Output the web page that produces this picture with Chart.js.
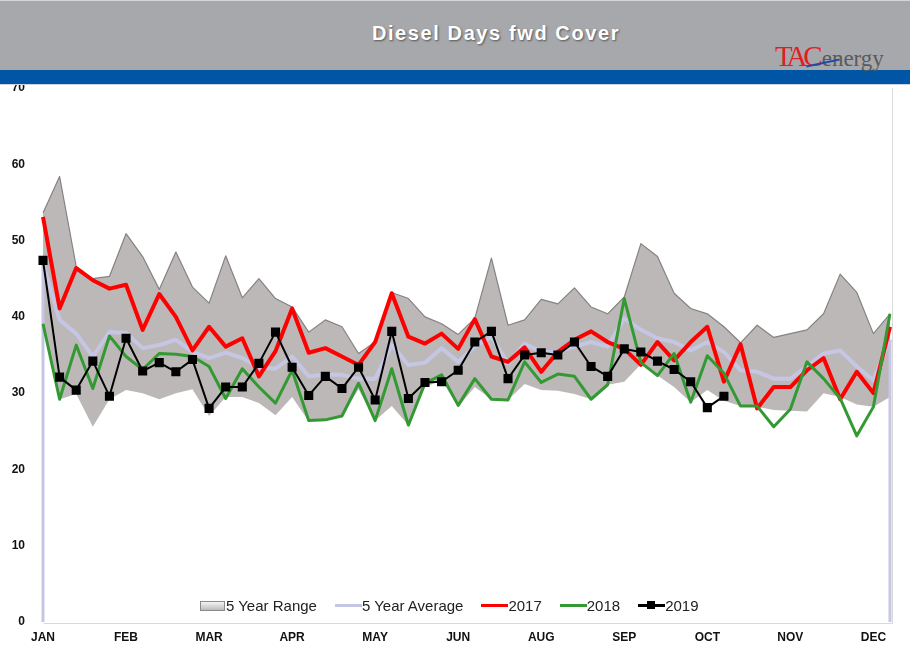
<!DOCTYPE html>
<html>
<head>
<meta charset="utf-8">
<script src="https://cdn.jsdelivr.net/npm/chart.js@4.4.1/dist/chart.umd.min.js"></script>
<style>
  html, body { margin: 0; padding: 0; background: #fff; }
  #wrap { position: relative; width: 910px; height: 661px; overflow: hidden; }
  #chart { position: absolute; left: 0; top: 0; }
  #head { position: absolute; left: 0; top: 0; width: 910px; height: 70px; background: #a7a8ab; border-top: 1px solid #d6d6d8; box-sizing: border-box; z-index: 2; }
  #band { position: absolute; left: 0; top: 70px; width: 910px; height: 14px; background: #0055a5; border-bottom: 1px solid #c9d3e3; z-index: 2; }
  #title { position: absolute; left: 0; width: 992px; top: 21px; text-align: center; color: #fff; font: bold 20px "Liberation Sans", Arial, sans-serif; letter-spacing: 1.6px; text-shadow: 1px 1px 2px #555; }
  #logo { position: absolute; left: 775px; top: 40px; white-space: nowrap; z-index: 3; font-family: "Liberation Serif", "DejaVu Serif", serif; }
  #logo .tac { color: #e31d25; font-size: 29px; letter-spacing: -4px; }
  #logo .en { color: #5a5a5c; font-size: 23px; margin-left: 3px; }
  #swoosh { position: absolute; left: 806px; top: 62px; width: 34px; height: 2px; background: #1f4fa0; transform: rotate(-12deg); z-index: 4; }
  #legend { position: absolute; top: 597px; left: 200px; display: flex; align-items: center; font: 15px "Liberation Sans", Arial, sans-serif; color: #222; z-index: 3; }
  #legend .item { display: flex; align-items: center; margin-right: 18px; }
  #legend .box { width: 23px; height: 8px; background: linear-gradient(#f4f4f4, #bdbaba); border: 1px solid #8a8a8a; margin-right: 1px; }
  #legend .ln { width: 27px; height: 3px; position: relative; }
  #legend .sq { position: absolute; left: 9px; top: -3px; width: 8px; height: 8px; background: #000; }
</style>
</head>
<body>
<div id="wrap">
  <canvas id="chart" width="910" height="661"></canvas>
  <div id="head"><div id="title">Diesel Days fwd Cover</div></div>
  <div id="band"></div>
  <div id="logo"><span class="tac">TAC</span><span class="en">energy</span></div>
  <div id="swoosh"></div>
  <div id="legend">
    <div class="item"><span class="box"></span>5 Year Range</div>
    <div class="item"><span class="ln" style="background:#c5c6e4"></span>5 Year Average</div>
    <div class="item"><span class="ln" style="background:#ff0000"></span>2017</div>
    <div class="item"><span class="ln" style="background:#339933"></span>2018</div>
    <div class="item"><span class="ln" style="background:#000"><span class="sq"></span></span>2019</div>
  </div>
</div>
<script>
// week categories (52 weeks), month tick labels shown every 5th week
const weeks = [];
for (let w = 1; w <= 52; w++) weeks.push("W" + w);
const monthTicks = ["JAN", "FEB", "MAR", "APR", "MAY", "JUN", "AUG", "SEP", "OCT", "NOV", "DEC"];

const rangeMax = [53.6, 58.4, 46.6, 45.0, 45.3, 50.9, 47.9, 43.6, 48.5, 43.9, 41.8, 48.0, 42.5,
  45.0, 42.4, 41.3, 38.0, 39.6, 38.7, 35.2, 36.7, 43.2, 42.4, 40.0, 39.1, 37.7, 39.8,
  47.7, 38.9, 39.6, 42.3, 41.7, 43.8, 41.3, 40.4, 42.6, 49.6, 47.9, 43.1, 41.1, 40.4,
  38.7, 36.6, 38.9, 37.3, 37.8, 38.3, 40.4, 45.6, 43.2, 37.8, 40.4];
const rangeMin = [39.0, 29.2, 29.9, 25.6, 29.2, 30.4, 30.0, 29.2, 30.0, 30.5, 27.0, 29.5, 29.5,
  28.7, 27.1, 29.5, 26.3, 26.5, 27.0, 30.5, 26.4, 28.3, 25.8, 30.8, 31.7, 28.2, 30.8,
  29.2, 29.1, 31.2, 30.4, 30.3, 29.9, 29.2, 31.1, 31.5, 33.8, 32.3, 30.8, 28.8, 30.4,
  29.0, 28.3, 28.2, 27.8, 27.7, 27.6, 30.0, 29.5, 28.5, 28.2, 29.5];
const avg5 = [47.0, 39.6, 37.8, 34.8, 38.0, 37.9, 35.9, 36.3, 37.0, 35.4, 34.6, 35.3, 34.6,
  33.4, 33.2, 34.8, 32.2, 32.4, 32.4, 31.9, 31.9, 36.3, 33.7, 34.0, 35.9, 34.1, 36.1,
  37.4, 33.9, 36.5, 35.4, 35.4, 36.1, 36.7, 36.1, 39.8, 38.3, 37.2, 36.7, 35.6, 36.7,
  35.4, 33.0, 32.8, 31.9, 31.9, 33.5, 35.2, 35.6, 33.5, 31.7, 37.0];
const y2017 = [53.1, 41.1, 46.4, 44.8, 43.7, 44.2, 38.3, 43.0, 40.0, 35.6, 38.7, 36.1, 37.2,
  32.2, 35.5, 41.1, 35.3, 35.9, 34.8, 33.7, 36.7, 43.1, 37.4, 36.5, 37.8, 35.8, 39.7,
  34.8, 34.1, 36.0, 32.8, 35.4, 37.0, 38.1, 36.7, 35.8, 33.7, 36.7, 34.3, 36.7, 38.7,
  31.5, 36.4, 28.0, 30.8, 30.8, 33.0, 34.6, 29.2, 32.8, 30.0, 38.7];
const y2018 = [39.1, 29.2, 36.3, 30.6, 37.5, 34.8, 33.1, 35.2, 35.1, 34.8, 33.5, 29.3, 33.2,
  30.8, 28.7, 33.0, 26.4, 26.5, 27.0, 31.3, 26.4, 33.2, 25.8, 31.3, 32.4, 28.4, 31.9,
  29.2, 29.1, 34.1, 31.4, 32.5, 32.2, 29.2, 31.1, 42.4, 34.0, 32.3, 35.2, 28.8, 34.9,
  32.6, 28.3, 28.3, 25.6, 27.9, 34.1, 31.9, 29.3, 24.4, 28.2, 40.4];
const y2019 = [47.4, 32.1, 30.4, 34.2, 29.6, 37.2, 32.9, 34.0, 32.8, 34.4, 28.0, 30.8, 30.8,
  33.9, 38.0, 33.4, 29.7, 32.2, 30.6, 33.4, 29.1, 38.1, 29.3, 31.4, 31.5, 33.0, 36.7,
  38.1, 31.9, 35.0, 35.3, 35.0, 36.7, 33.5, 32.2, 35.8, 35.4, 34.2, 33.1, 31.5, 28.1, 29.6];

const condensed = "'Liberation Sans Narrow', Arial, 'Liberation Sans', sans-serif";

// Excel-style area outline for the average: vertical edges down to the axis
const avgEdges = {
    id: "avgEdges",
    afterDatasetDraw(chart, args) {
        if (args.meta.label !== "5 Year Average") return;
        const pts = args.meta.data;
        const base = chart.scales.y.getPixelForValue(0);
        const ctx = chart.ctx;
        ctx.save();
        ctx.strokeStyle = "#c5c6e4";
        ctx.lineWidth = 3;
        [pts[0], pts[pts.length - 1]].forEach(function (p) {
            ctx.beginPath();
            ctx.moveTo(p.x, p.y);
            ctx.lineTo(p.x, base);
            ctx.stroke();
        });
        ctx.restore();
    }
};

// thin frame around the plot
const frame = {
    id: "frame",
    beforeDatasetsDraw(chart) {
        const a = chart.chartArea;
        const ctx = chart.ctx;
        ctx.save();
        ctx.strokeStyle = "#d9d9d9";
        ctx.lineWidth = 1;
        ctx.beginPath();
        ctx.moveTo(a.left + 0.5, a.bottom + 1.5);
        ctx.lineTo(a.right + 2.5, a.bottom + 1.5);
        ctx.lineTo(a.right + 2.5, a.top);
        ctx.stroke();
        ctx.restore();
    }
};

new Chart(document.getElementById("chart").getContext("2d"), {
    type: "line",
    data: {
        labels: weeks,
        datasets: [
            {
                label: "Range low",
                data: rangeMin,
                borderWidth: 0,
                borderColor: "rgba(0,0,0,0)",
                pointRadius: 0,
                fill: false,
                order: 6
            },
            {
                label: "5 Year Range",
                data: rangeMax,
                borderColor: "#858282",
                borderWidth: 1.2,
                backgroundColor: "#bcb8b8",
                pointRadius: 0,
                fill: "-1",
                order: 5
            },
            {
                label: "5 Year Average",
                data: avg5,
                borderColor: "#c5c6e4",
                borderWidth: 4,
                pointRadius: 0,
                fill: false,
                order: 4
            },
            {
                label: "2017",
                data: y2017,
                borderColor: "#ff0000",
                borderWidth: 4,
                pointRadius: 0,
                fill: false,
                order: 3
            },
            {
                label: "2018",
                data: y2018,
                borderColor: "#339933",
                borderWidth: 3,
                pointRadius: 0,
                fill: false,
                order: 2
            },
            {
                label: "2019",
                data: y2019,
                borderColor: "#000000",
                borderWidth: 2,
                pointStyle: "rect",
                pointRadius: 5,
                pointBackgroundColor: "#000000",
                pointBorderColor: "#000000",
                fill: false,
                order: 1
            }
        ]
    },
    plugins: [frame, avgEdges],
    options: {
        responsive: false,
        animation: false,
        layout: { padding: { top: 88, right: 20, left: 0, bottom: 0 } },
        elements: { line: { tension: 0, borderJoinStyle: "round" } },
        plugins: {
            legend: { display: false },
            tooltip: { enabled: false }
        },
        scales: {
            x: {
                grid: { display: false, drawTicks: false },
                border: { display: false },
                ticks: {
                    autoSkip: false,
                    maxRotation: 0,
                    padding: 8,
                    color: "#111",
                    font: { family: condensed, size: 12, weight: "bold" },
                    callback: function (val, idx) {
                        return idx % 5 === 0 ? monthTicks[idx / 5] : "";
                    }
                },
                afterFit: function (scale) { scale.height = 39; }
            },
            y: {
                min: 0,
                max: 70,
                grid: { display: false, drawTicks: false },
                border: { display: false },
                ticks: {
                    stepSize: 10,
                    padding: 18,
                    color: "#111",
                    font: { family: condensed, size: 12, weight: "bold" }
                },
                afterFit: function (scale) { scale.width = 43; }
            }
        }
    }
});
</script>
</body>
</html>
